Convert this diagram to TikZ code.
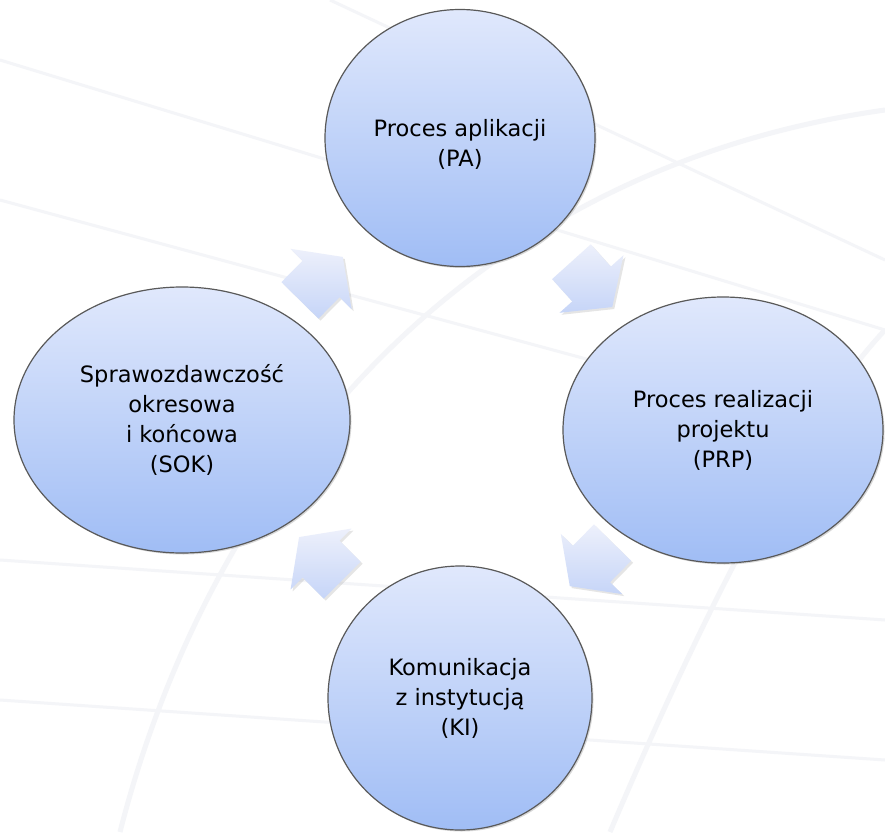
\documentclass[tikz,border=0pt]{standalone}
\usepackage{fontspec}
\setmainfont{DejaVu Sans}
\usetikzlibrary{shapes.geometric,shadows}

\definecolor{cyctop}{RGB}{224,232,252}
\definecolor{cycbot}{RGB}{160,189,245}
\definecolor{arrtop}{RGB}{237,240,251}
\definecolor{arrbot}{RGB}{198,213,248}
\definecolor{bgline}{RGB}{244,245,248}

\tikzset{
  stage/.style={ellipse, draw=gray!70!black, line width=1.2pt,
    top color=cyctop, bottom color=cycbot, align=center, inner sep=0pt,
    font=\fontsize{22.5}{30}\selectfont,
    drop shadow={opacity=0.3, shadow xshift=1.5pt, shadow yshift=-1.5pt}},
  flow/.style={top color=arrtop, bottom color=arrbot,
    drop shadow={opacity=0.2, shadow xshift=2pt, shadow yshift=-2pt}},
  backline/.style={draw=bgline, line width=5pt},
  flowarrow/.pic={
    \path[flow] (-30,-26) -- (0,-26) -- (0,-43) -- (31,0) -- (0,43)
      -- (0,26) -- (-30,26) -- cycle;}
}

\begin{document}
\begin{tikzpicture}[x=1pt, y=-1pt]
        % Background with faint lines
        \useasboundingbox[fill=white] (0,0) rectangle (885,832);
        \draw[backline] (120,832) .. controls (210,480) and (460,170) .. (885,110);
        \draw[backline] (610,832) .. controls (700,620) and (800,420) .. (885,330);
        \draw[backline, line width=3pt] (0,60) -- (885,330);
        \draw[backline, line width=3pt] (0,200) -- (885,440);
        \draw[backline, line width=3pt] (330,0) -- (885,260);
        \draw[backline, line width=3pt] (0,560) -- (885,620);
        \draw[backline, line width=3pt] (0,700) -- (885,760);

        % Draw the four stages of the cycle
        \node[stage, minimum width=270, minimum height=257] (pa) at (460,138)
            {\\Proces aplikacji\\(PA)};
        \node[stage, minimum width=320, minimum height=266] (prp) at (723,430)
            {Proces realizacji\\projektu\\(PRP)};
        \node[stage, minimum width=264, minimum height=264] (ki) at (460,698)
            {Komunikacja\\z instytucją\\(KI)};
        \node[stage, minimum width=336, minimum height=266] (sok) at (182,420)
            {Sprawozdawczość\\okresowa\\i końcowa\\(SOK)};

        % Arrows between the stages
        \path (pa.center) -- (prp.center) pic[pos=0.5, sloped, allow upside down] {flowarrow};
        \path (prp.center) -- (ki.center) pic[pos=0.5, sloped, allow upside down] {flowarrow};
        \path (ki.center) -- (sok.center) pic[pos=0.5, sloped, allow upside down] {flowarrow};
        \path (sok.center) -- (pa.center) pic[pos=0.5, sloped, allow upside down] {flowarrow};
    \end{tikzpicture}
\end{document}
